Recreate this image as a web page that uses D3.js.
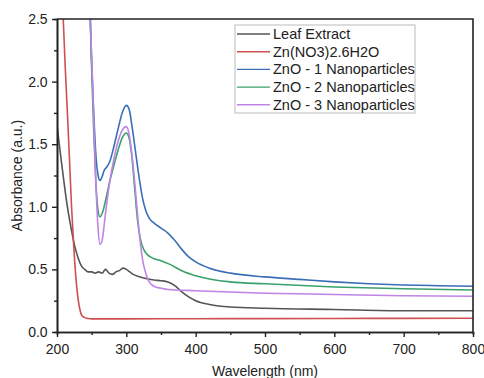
<!DOCTYPE html>
<html>
<head>
<meta charset="utf-8">
<script src="https://cdn.jsdelivr.net/npm/d3@7"></script>
<style>
  body { margin: 0; background: #fff; }
  svg text { font-family: "Liberation Sans", Arial, sans-serif; fill: #222; }
</style>
</head>
<body>
<div id="chart"></div>
<script>
// wavelengths (nm) and absorbance
var leafX = [200, 205, 210, 215, 220, 225, 230, 235, 240, 245, 250, 255, 260, 265, 270, 275, 280, 285, 290, 295, 300, 305, 310, 320, 330, 340, 350, 360, 370, 380, 390, 400, 420, 450, 500, 600, 700, 800];
var leafY = [1.65, 1.42, 1.2, 1.0, 0.84, 0.7, 0.6, 0.53, 0.5, 0.48, 0.48, 0.47, 0.48, 0.47, 0.5, 0.47, 0.46, 0.48, 0.49, 0.51, 0.5, 0.48, 0.46, 0.44, 0.425, 0.415, 0.41, 0.4, 0.37, 0.32, 0.28, 0.25, 0.22, 0.2, 0.19, 0.18, 0.17, 0.17];

var znX = [205, 209, 212, 215, 218, 221, 224, 227, 230, 233, 236, 240, 245, 250, 300, 400, 500, 600, 700, 800];
var znY = [3.0, 2.5, 2.1, 1.75, 1.38, 1.0, 0.7, 0.45, 0.28, 0.18, 0.13, 0.115, 0.108, 0.105, 0.105, 0.106, 0.107, 0.108, 0.109, 0.11];

var zno1X = [245, 248, 250, 253, 256, 259, 262, 265, 268, 272, 276, 282, 288, 294, 300, 304, 308, 313, 318, 323, 328, 333, 340, 350, 360, 370, 380, 390, 400, 420, 450, 500, 550, 600, 650, 700, 750, 800];
var zno1Y = [2.9, 2.5, 2.15, 1.75, 1.42, 1.26, 1.21, 1.24, 1.29, 1.32, 1.36, 1.48, 1.62, 1.75, 1.81, 1.78, 1.65, 1.45, 1.25, 1.08, 0.97, 0.91, 0.87, 0.83, 0.79, 0.73, 0.66, 0.6, 0.56, 0.51, 0.47, 0.44, 0.42, 0.4, 0.385, 0.375, 0.37, 0.365];

var zno2X = [245, 248, 250, 253, 256, 259, 262, 266, 270, 276, 282, 288, 294, 300, 304, 308, 312, 316, 320, 325, 330, 338, 350, 363, 380, 400, 450, 500, 600, 700, 800];
var zno2Y = [2.9, 2.5, 2.1, 1.6, 1.2, 0.98, 0.92, 0.96, 1.05, 1.2, 1.33, 1.45, 1.55, 1.59, 1.55, 1.4, 1.15, 0.9, 0.75, 0.66, 0.62, 0.59, 0.57, 0.54, 0.49, 0.45, 0.4, 0.385, 0.36, 0.345, 0.335];

var zno3X = [245, 248, 250, 253, 256, 259, 262, 265, 270, 276, 282, 288, 294, 300, 304, 308, 312, 316, 320, 324, 328, 332, 336, 342, 350, 360, 400, 500, 600, 700, 800];
var zno3Y = [2.9, 2.5, 2.2, 1.7, 1.2, 0.85, 0.7, 0.73, 0.95, 1.2, 1.38, 1.52, 1.61, 1.64, 1.58, 1.42, 1.2, 0.95, 0.72, 0.56, 0.47, 0.41, 0.38, 0.36, 0.35, 0.34, 0.33, 0.31, 0.3, 0.29, 0.285];

var seriesNames = ["Leaf Extract", "Zn(NO3)2.6H2O", "ZnO - 1 Nanoparticles", "ZnO - 2 Nanoparticles", "ZnO - 3 Nanoparticles"];
var seriesColors = ["#555555", "#d05050", "#3a6fb8", "#3aa06c", "#c083e6"];
var xTicks = [200, 300, 400, 500, 600, 700, 800];
var yTicks = [0.0, 0.5, 1.0, 1.5, 2.0, 2.5];

var seriesX = [leafX, znX, zno1X, zno2X, zno3X];
var seriesY = [leafY, znY, zno1Y, zno2Y, zno3Y];

var width = 484, height = 378;
var margin = {left: 57, right: 11, top: 19, bottom: 46};

var svg = d3.select("#chart").append("svg")
  .attr("width", width)
  .attr("height", height);

var x = d3.scaleLinear().domain([200, 800]).range([margin.left, width - margin.right]);
var y = d3.scaleLinear().domain([0, 2.5]).range([height - margin.bottom, margin.top]);

svg.append("clipPath").attr("id", "plot-clip")
  .append("rect")
  .attr("x", x(200)).attr("y", y(2.5))
  .attr("width", x(800) - x(200)).attr("height", y(0) - y(2.5));

var line = d3.line()
  .x(function (d) { return x(d[0]); })
  .y(function (d) { return y(d[1]); })
  .curve(d3.curveMonotoneX);

var lines = svg.append("g").attr("clip-path", "url(#plot-clip)");
seriesX.forEach(function (xs, i) {
  var pts = xs.map(function (v, j) { return [v, seriesY[i][j]]; });
  lines.append("path")
    .attr("d", line(pts))
    .attr("fill", "none")
    .attr("stroke", seriesColors[i])
    .attr("stroke-width", 1.6);
});

// axes
var xAxis = svg.append("g")
  .attr("transform", "translate(0," + y(0) + ")")
  .call(d3.axisBottom(x).tickValues(xTicks).tickSize(5).tickSizeOuter(0).tickFormat(d3.format("d")));
var xMinor = svg.append("g")
  .attr("transform", "translate(0," + y(0) + ")")
  .call(d3.axisBottom(x).tickValues([250, 350, 450, 550, 650, 750]).tickSize(3).tickFormat(""));

var yAxis = svg.append("g")
  .attr("transform", "translate(" + x(200) + ",0)")
  .call(d3.axisLeft(y).tickValues(yTicks).tickSize(5).tickSizeOuter(0).tickFormat(d3.format(".1f")));
var yMinor = svg.append("g")
  .attr("transform", "translate(" + x(200) + ",0)")
  .call(d3.axisLeft(y).tickValues([0.25, 0.75, 1.25, 1.75, 2.25]).tickSize(3).tickFormat(""));

[xAxis, xMinor, yAxis, yMinor].forEach(function (g) {
  g.selectAll(".domain").attr("stroke", "#222").attr("stroke-width", 1.6);
  g.selectAll(".tick line").attr("stroke", "#222").attr("stroke-width", 1.4);
  g.selectAll(".tick text").attr("font-size", 14).style("font-family", "Liberation Sans, Arial, sans-serif").attr("fill", "#222");
});
xAxis.selectAll(".tick text").attr("dy", "1.0em");
yAxis.selectAll(".tick text").attr("dx", "-0.1em");

// top and right frame
svg.append("path")
  .attr("d", "M" + x(200) + "," + y(2.5) + "H" + x(800) + "V" + y(0))
  .attr("fill", "none")
  .attr("stroke", "#222")
  .attr("stroke-width", 1.6);

// axis titles
svg.append("text")
  .attr("x", (x(200) + x(800)) / 2)
  .attr("y", 376)
  .attr("text-anchor", "middle")
  .attr("font-size", 14)
  .text("Wavelength (nm)");

svg.append("text")
  .attr("transform", "translate(22," + ((y(0) + y(2.5)) / 2) + ") rotate(-90)")
  .attr("text-anchor", "middle")
  .attr("font-size", 14)
  .text("Absorbance (a.u.)");

// legend
var legend = svg.append("g").attr("transform", "translate(235,25)");
legend.append("rect")
  .attr("width", 180).attr("height", 88)
  .attr("fill", "#fff")
  .attr("stroke", "#bbb")
  .attr("stroke-width", 1);
seriesNames.forEach(function (name, i) {
  var row = legend.append("g").attr("transform", "translate(0," + (9 + i * 17.7) + ")");
  row.append("line")
    .attr("x1", 2).attr("x2", 35)
    .attr("stroke", seriesColors[i])
    .attr("stroke-width", 1.4);
  row.append("text")
    .attr("x", 38).attr("y", 5)
    .attr("font-size", 14.5)
    .text(name);
});
</script>
</body>
</html>
